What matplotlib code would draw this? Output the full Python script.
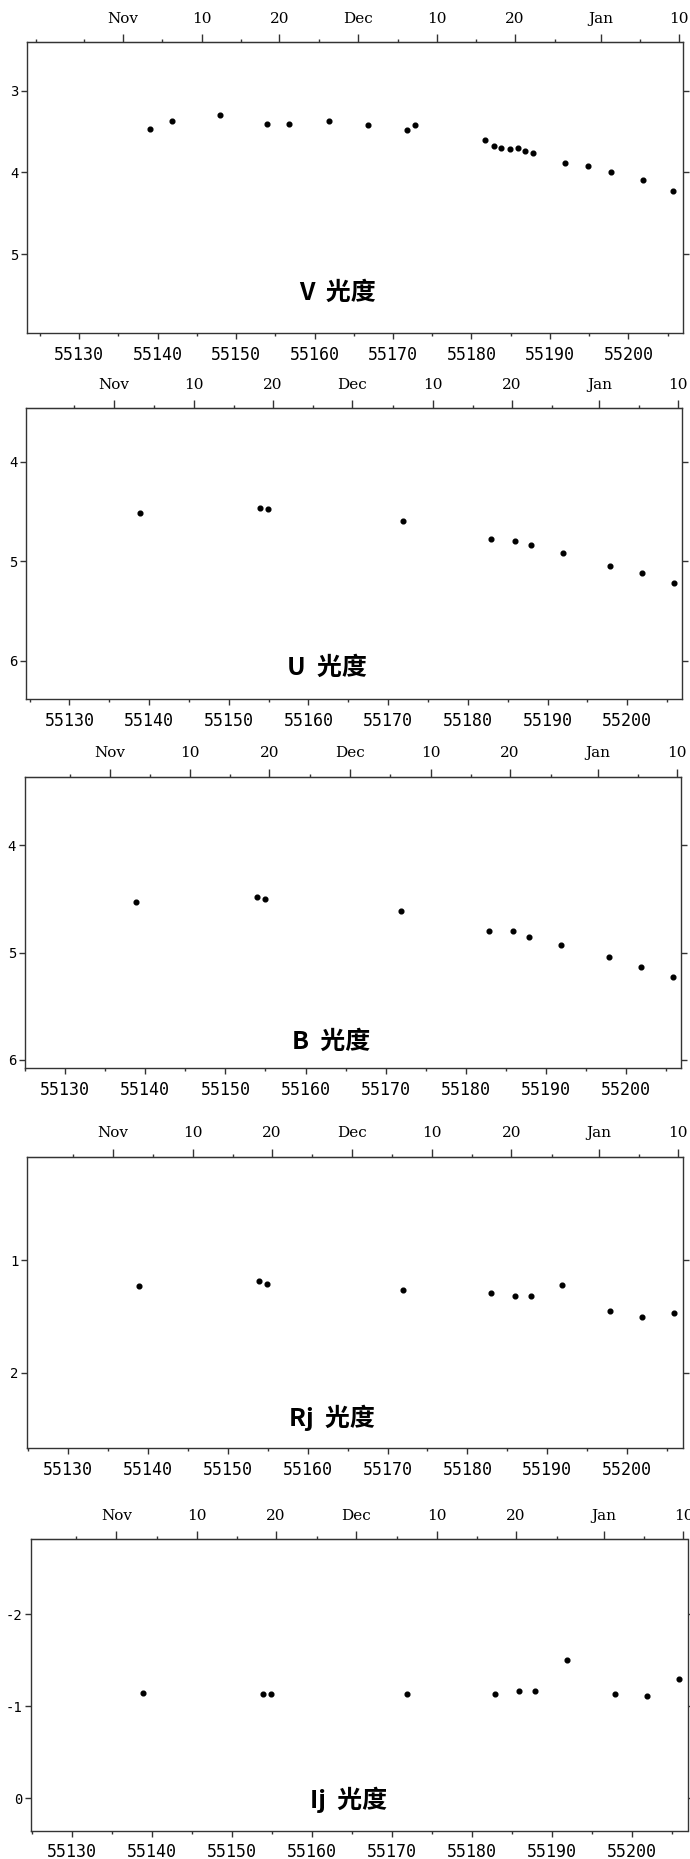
import matplotlib
matplotlib.use('Agg')
import matplotlib.pyplot as plt
from matplotlib.ticker import FixedLocator, NullFormatter

plt.rcParams['axes.unicode_minus'] = False

# ---------------- data ----------------
mjd_V = [55139.0, 55141.8, 55147.9, 55153.9, 55156.8, 55161.9, 55166.8, 55171.8,
         55172.8, 55181.7, 55182.9, 55183.8, 55184.9, 55185.9, 55186.8, 55187.8,
         55191.9, 55194.8, 55197.8, 55201.8, 55205.7]
mag_V = [3.47, 3.37, 3.30, 3.41, 3.41, 3.37, 3.42, 3.48, 3.42, 3.61, 3.68, 3.70,
         3.72, 3.70, 3.74, 3.76, 3.89, 3.92, 4.00, 4.09, 4.23]

mjd_multi = [55138.9, 55153.9, 55154.9, 55171.9, 55182.9, 55185.9, 55187.9,
             55191.9, 55197.9, 55201.9, 55205.9]
mag_U = [4.52, 4.47, 4.48, 4.60, 4.78, 4.80, 4.84, 4.92, 5.05, 5.12, 5.22]
mag_B = [4.53, 4.48, 4.50, 4.61, 4.80, 4.80, 4.85, 4.93, 5.04, 5.13, 5.23]
mag_Rj = [1.23, 1.19, 1.21, 1.27, 1.29, 1.32, 1.32, 1.22, 1.45, 1.51, 1.47]
mag_Ij = [-1.14, -1.13, -1.13, -1.13, -1.13, -1.16, -1.16, -1.50, -1.13, -1.11, -1.29]

panel_titles = ["V  光度", "U  光度", "B  光度", "Rj  光度", "Ij  光度"]
y_ticks = [[3, 4, 5], [4, 5, 6], [4, 5, 6], [1, 2], [-2, -1, 0]]

bottom_major = [55130, 55140, 55150, 55160, 55170, 55180, 55190, 55200]
bottom_minor = [55125, 55135, 55145, 55155, 55165, 55175, 55185, 55195, 55205]

top_labels = ["Nov", "10", "20", "Dec", "10", "20", "Jan", "10"]
top_major = [55135.6, 55145.6, 55155.5, 55165.5, 55175.6, 55185.5, 55196.5, 55206.4]
top_minor = [55124.5, 55130.6, 55140.6, 55150.6, 55160.6, 55170.6, 55180.6, 55190.6, 55201.5]

# ---------------- layout (pixels) ----------------
W, H = 690, 1859
# left, top, right, bottom in pixels
boxes = [(27.3, 42.3, 683.0, 333.3),
         (26.4, 408.3, 682.2, 699.3),
         (25.1, 776.7, 681.3, 1068.3),
         (27.3, 1156.7, 683.1, 1448.3),
         (31.2, 1539.0, 687.5, 1830.7)]
xlims = [(55123.4, 55206.95), (55124.6, 55206.9), (55125.0, 55206.9),
         (55124.9, 55207.0), (55124.95, 55206.9)]
ylims = [(5.97, 2.41), (6.385, 3.465), (6.078, 3.36), (2.672, 0.082), (0.351, -2.814)]
title_pos = [(0.473, 0.138), (0.458, 0.107), (0.467, 0.091), (0.464, 0.103), (0.483, 0.105)]

series = [(mjd_V, mag_V), (mjd_multi, mag_U), (mjd_multi, mag_B),
          (mjd_multi, mag_Rj), (mjd_multi, mag_Ij)]

fig = plt.figure(figsize=(W / 100, H / 100), dpi=100)
fig.patch.set_facecolor('white')

frame_col = '#333333'

for i, (box, (xs, ys)) in enumerate(zip(boxes, series)):
    l, t, r, b = box
    ax = fig.add_axes([l / W, 1 - b / H, (r - l) / W, (b - t) / H])
    ax.plot(xs, ys, 'o', color='black', markersize=3.4, linestyle='none')
    ax.set_xlim(*xlims[i])
    ax.set_ylim(*ylims[i])

    for s in ax.spines.values():
        s.set_color(frame_col)
        s.set_linewidth(1.0)

    # bottom axis
    ax.xaxis.set_major_locator(FixedLocator(bottom_major))
    ax.xaxis.set_minor_locator(FixedLocator(bottom_minor))
    ax.tick_params(axis='x', which='major', direction='out', length=4.5, width=1.0,
                   color=frame_col, pad=4.5, labelsize=12)
    ax.tick_params(axis='x', which='minor', direction='out', length=2.2, width=1.0,
                   color=frame_col)
    for lab in ax.get_xticklabels():
        lab.set_fontfamily('DejaVu Sans Mono')

    # y axis (both sides, no labels on right)
    ax.set_yticks(y_ticks[i])
    ax.set_yticklabels([str(v) for v in y_ticks[i]], fontfamily='DejaVu Sans Mono')
    ax.tick_params(axis='y', which='major', direction='out', length=4.5, width=1.0,
                   color=frame_col, pad=2, labelsize=10, right=True, labelright=False)

    # top axis with dates
    top = ax.secondary_xaxis('top')
    top.xaxis.set_major_locator(FixedLocator(top_major))
    top.xaxis.set_minor_locator(FixedLocator(top_minor))
    top.set_xticklabels(top_labels, fontfamily='DejaVu Serif')
    top.xaxis.set_minor_formatter(NullFormatter())
    top.tick_params(axis='x', which='major', direction='out', length=5.8, width=1.0,
                    color=frame_col, pad=6.0, labelsize=11)
    top.tick_params(axis='x', which='minor', direction='out', length=2.2, width=1.0,
                    color=frame_col)
    top.spines['top'].set_color(frame_col)

    tx, ty = title_pos[i]
    ax.text(tx, ty, panel_titles[i], transform=ax.transAxes, ha='center', va='center',
            fontsize=18, fontweight='bold',
            fontfamily=['Noto Sans CJK SC', 'DejaVu Sans'])

fig.savefig('out.png', dpi=100, facecolor='white')
